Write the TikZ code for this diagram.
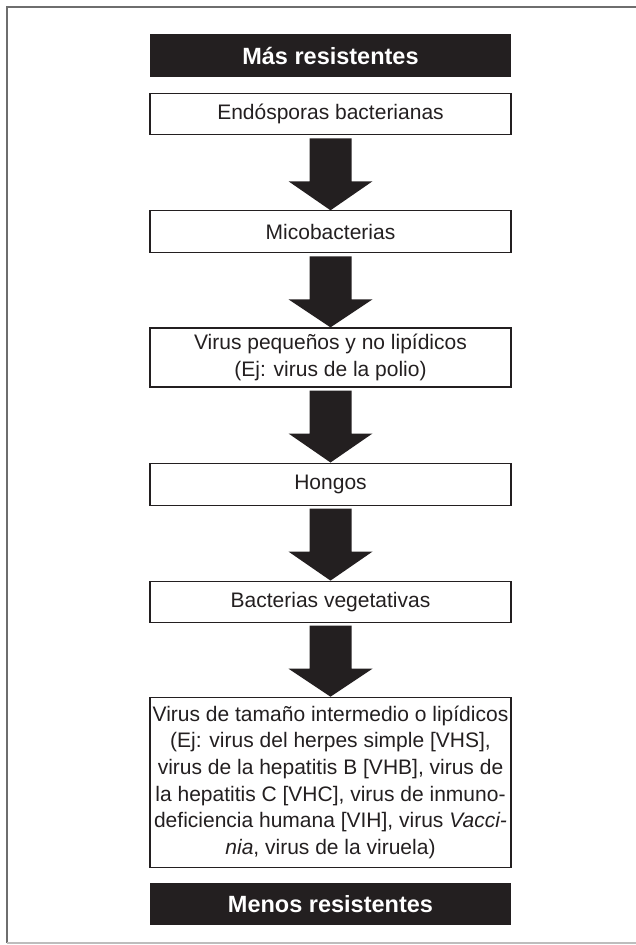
\documentclass[tikz,border=0pt]{standalone}
\usepackage{fontspec}
\setmainfont{Liberation Sans}
\usetikzlibrary{positioning, calc}

\definecolor{inkblack}{HTML}{231F20}
\definecolor{framedark}{HTML}{6E6E6E}
\definecolor{framelight}{HTML}{BDBDBD}

% block arrow from one box down to the next
\newcommand{\blockarrow}[2]{%
  \fill[inkblack] ($(#1.south)+(-21,-3)$) -- ($(#1.south)+(21,-3)$)
    -- ($(#1.south)+(21,-46)$) -- ($(#1.south)+(42,-46)$)
    -- (#2.north) -- ($(#1.south)+(-42,-46)$)
    -- ($(#1.south)+(-21,-46)$) -- cycle;}

\begin{document}
\begin{tikzpicture}[
    x=1pt, y=1pt,
    node distance=75pt,
    every node/.style={font=\fontsize{21}{26.7}\selectfont},
    level/.style={draw=inkblack, line width=1.1pt, minimum width=361pt, minimum height=42pt, inner sep=0pt, align=center, text=inkblack},
    banner/.style={fill=inkblack, minimum width=361pt, minimum height=43pt, inner sep=0pt, text=white, font=\fontsize{23.5}{28}\selectfont\bfseries}
]
\useasboundingbox (0,0) rectangle (636,-945);

% Frame
\draw[framedark, line width=2pt] (7,-943) -- (7,-7) -- (650,-7);
\draw[framelight, line width=1.5pt] (7,-943) -- (650,-943);

% Nodes
\node[banner] (mas) at (330.5,-55.5) {Más resistentes};
\node[level, below=16pt of mas, minimum height=41pt] (endo) {Endósporas bacterianas};
\node[level, below=of endo] (myco) {Micobacterias};
\node[level, below=74pt of myco, minimum height=59pt] (small) {Virus pequeños y no lipídicos\\(Ej: virus de la polio)};
\node[level, below=of small] (fungi) {Hongos};
\node[level, below=of fungi, minimum height=41pt] (bact) {Bacterias vegetativas};
\node[level, below=74pt of bact, minimum height=170pt] (inter) {Virus de tamaño intermedio o lipídicos\\(Ej: virus del herpes simple [VHS],\\virus de la hepatitis B [VHB], virus de\\la hepatitis C [VHC], virus de inmuno-\\deficiencia humana [VIH], virus \textit{Vacci-}\\\textit{nia}, virus de la viruela)};
\node[banner, below=15pt of inter, minimum height=42pt] (menos) {Menos resistentes};

% Arrows
\blockarrow{endo}{myco}
\blockarrow{myco}{small}
\blockarrow{small}{fungi}
\blockarrow{fungi}{bact}
\blockarrow{bact}{inter}

\end{tikzpicture}
\end{document}
